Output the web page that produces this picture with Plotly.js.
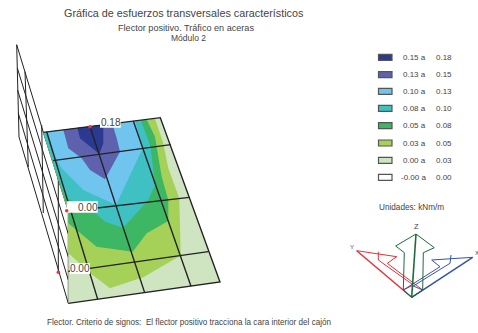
<!DOCTYPE html>
<html><head><meta charset="utf-8">
<script src="https://cdn.plot.ly/plotly-3.0.1.min.js"></script>
<style>html,body{margin:0;padding:0;background:#fff}#c{width:478px;height:333px}</style>
</head><body><div id="c"></div>
<script>
// Legend
const legendFrom=["0.15 a","0.13 a","0.10 a","0.08 a","0.05 a","0.03 a","0.00 a","-0.00 a"];
const legendTo=["0.18","0.15","0.13","0.10","0.08","0.05","0.03","0.00"];
const legendColors=["#2B3990","#5E62AE","#6FC5EE","#3FC0C3","#3DB764","#A6D158","#CFE5C2","#FFFFFF"];
const legendY=[57.3,74.7,91.3,108.3,125.7,143,160.3,177.3];
// Contour bands (nested, lowest first)
const paleX=[43.3,160.3,220,68.3,68.3];
const paleY=[132.3,117.7,282,303.3,211];
const limeX=[43.3,155,163.3,168.3,179.3,180,180.7,143.3,110,90,68.3,68.3];
const limeY=[132.3,118.5,143.3,168.3,198.3,226.7,255.5,277.3,288.3,273,253,211];
const greenX=[43.3,146.7,155,157.3,161.7,168.3,168.3,146.7,132.7,120,96.7,68.3,68.3];
const greenY=[132.3,119.5,136.7,150,176.7,200,221,233.3,251.7,250,246.7,223.3,211];
const tealX=[43.3,140.7,148.3,150.7,155,148.3,123.3,105,90,66,58];
const tealY=[132.3,120,140,148.3,185,200,227.7,221.7,208,198,177];
const blueX=[47.3,135,142.7,116,83.3,61.7,56.7];
const blueY=[131.8,121,148.3,205,190,168.3,160];
const purpleX=[63.3,112.3,116.7,120,105,90,81.7,68.3];
const purpleY=[129.8,123.7,138.3,151.7,179.3,170,158.3,148.3];
const navyX=[77.3,103.3,103.3,99.3,80];
const navyY=[128,124.8,143.3,154,138.3];
// Grid of the plate
const gridX=[43.3,160.3,220,68.3,null,46.7,97.7,null,90,144.7,null,133.3,191,null,53,170.7,null,66.7,189.3,null,68.3,208.3];
const gridY=[132.3,117.7,282,303.3,null,131.7,299.3,null,126.7,292.7,null,121,286.3,null,160.7,144.7,null,211.5,197.3,null,271.4,251.7];
// Wall wireframe
const wallX=[16.7,43.3,68.3,null,17.3,68.3,null,17.6,68.3,null,18.3,68.3,null,19,68.3,null,16.7,19,null,25,28.3,null,41.7,43.3,null,58.3,58.3,null,68.3,68.3];
const wallY=[44.7,132.3,211,null,68,234,null,90,257,null,113.3,280,null,137,303.3,null,44.7,137,null,71.7,167,null,125,213,null,175.6,272.3,null,211,303.3];
// Value labels
const valueText=["0.18","0.00","0.00"];
const valueTextX=[110.5,87.8,80];
const valueTextY=[122.8,207,268.7];
const boxX=[100,120.7,120.7,100,null,66.7,97.7,97.7,66.7,null,70,90,90,70];
const boxY=[118,118,127.7,127.7,null,201.3,201.3,212.7,212.7,null,263.3,263.3,274,274];
const dotX=[90,66.7,58.3];
const dotY=[126.7,210.7,272.3];
// Axis triad
const redX=[356.7,396.7,387.3,422.7,411.7,null,378.3,378.3,413.3,403.3];
const redY=[250.7,256.7,263.3,290,297.3,null,251.7,260,285,290];
const redAxisX=[356.7,411.7];
const redAxisY=[250.7,297.3];
const blueAX=[472.7,431.7,440,403.3,411.7,null,451,450,413.3,422.7];
const blueAY=[257.3,260,266.7,290,297.3,null,255,263.3,286,290];
const blueAxisX=[472.7,411.7];
const blueAxisY=[257.3,297.3];
const greenAX=[416,395.7,404.3,403.3,411.7,422.7,423.3,434.3,416];
const greenAY=[234,246,252.7,290,297.3,290,252.7,247.7,234];
const greenAxisX=[416,411.7];
const greenAxisY=[234,297.3];

const tr=[];
function line(x,y,c,w){tr.push({type:'scatter',mode:'lines',x,y,line:{color:c,width:w},hoverinfo:'skip',showlegend:false});}
function fill(x,y,c){tr.push({type:'scatter',mode:'lines',x:x.concat([x[0]]),y:y.concat([y[0]]),fill:'toself',fillcolor:c,line:{width:0,color:c},hoverinfo:'skip',showlegend:false});}
line(wallX,wallY,'#222',1);
fill(paleX,paleY,legendColors[6]);
fill(limeX,limeY,legendColors[5]);
fill(greenX,greenY,legendColors[4]);
fill(tealX,tealY,legendColors[3]);
fill(blueX,blueY,legendColors[2]);
fill(purpleX,purpleY,legendColors[1]);
fill(navyX,navyY,legendColors[0]);
line(gridX,gridY,'#222',1.35);
tr.push({type:'scatter',mode:'lines',x:boxX,y:boxY,fill:'toself',fillcolor:'#fff',line:{width:0,color:'#fff'},hoverinfo:'skip',showlegend:false});
tr.push({type:'scatter',mode:'markers',x:dotX,y:dotY,marker:{color:'#EE3344',size:3.5},hoverinfo:'skip',showlegend:false});
line(redX,redY,'#E8303A',1);
line(redAxisX,redAxisY,'#E8303A',1.5);
line(blueAX,blueAY,'#3553A8',1);
line(blueAxisX,blueAxisY,'#3553A8',1.5);
line(greenAX,greenAY,'#1F6B3C',1);
line(greenAxisX,greenAxisY,'#1F6B3C',1.6);

const F='Liberation Sans, Arial, sans-serif', TC='#444';
function txt(text,x,y,size,anchor){return {text,x,y,xref:'x',yref:'y',showarrow:false,xanchor:anchor||'center',yanchor:'middle',font:{family:F,size,color:TC},borderpad:0,borderwidth:0};}
const ann=[
 txt("Gráfica de esfuerzos transversales característicos",183.7,13.3,10.8),
 txt("Flector positivo. Tráfico en aceras",186.3,27.7,9.1),
 txt("Módulo 2",188.3,38.3,8.5),
 txt("Flector. Criterio de signos:  El flector positivo tracciona la cara interior del cajón",188.8,322.3,8.15),
 txt("Unidades: kNm/m",411.2,207.3,8.2),
 txt("Z",416.7,226.7,7.5),txt("Y",351.7,246.7,6),txt("X",476.5,253,6)
];
valueText.forEach((t,i)=>ann.push(txt(t,valueTextX[i],valueTextY[i],10)));
const shapes=[];
legendFrom.forEach((t,i)=>{
 ann.push(txt(t,425.5,legendY[i],8,'right'));
 ann.push(txt(legendTo[i],451.5,legendY[i],8,'right'));
 shapes.push({type:'rect',xref:'x',yref:'y',x0:378.5,x1:392,y0:legendY[i]-3,y1:legendY[i]+3,fillcolor:legendColors[i],line:{color:'#555',width:1.2}});
});
Plotly.newPlot('c',tr,{
 width:478,height:333,margin:{l:0,r:0,t:0,b:0},paper_bgcolor:'#fff',plot_bgcolor:'#fff',showlegend:false,
 xaxis:{range:[0,478],visible:false,fixedrange:true},
 yaxis:{range:[333,0],visible:false,fixedrange:true},
 annotations:ann,shapes
},{displayModeBar:false,staticPlot:true});
</script></body></html>
